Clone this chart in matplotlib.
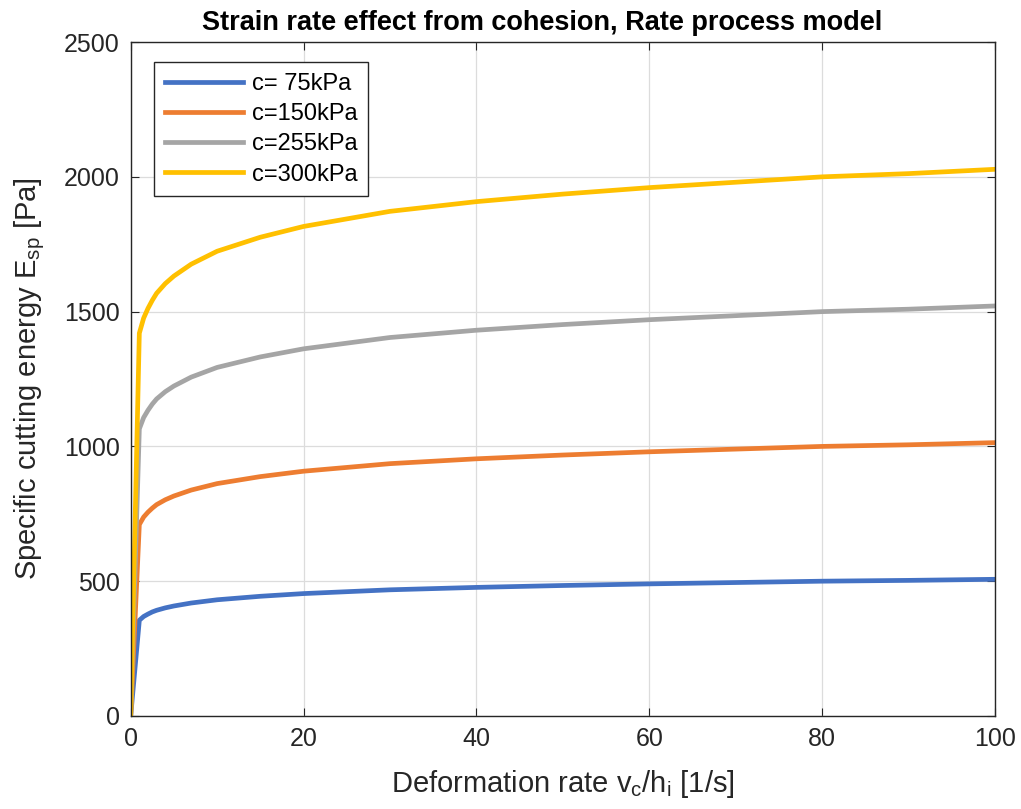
import matplotlib
matplotlib.use('Agg')
import matplotlib.pyplot as plt

plt.rcParams['font.family'] = ['Liberation Sans', 'DejaVu Sans']

# deformation rate [1/s]
rate = [0, 1, 1.5, 2, 2.5, 3, 4, 5, 7, 10, 15, 20, 30, 40, 50, 60, 70, 80, 90, 100]
# specific cutting energy [Pa]
e75 = [0, 355, 369, 378, 386, 392, 401, 408, 419, 431, 444, 454, 468, 477, 484, 490, 495, 500, 503, 507]
e150 = [0, 710, 738, 756, 771, 784, 802, 816, 838, 862, 888, 908, 936, 954, 968, 980, 990, 1000, 1006, 1014]
e255 = [0, 1065, 1107, 1134, 1157, 1176, 1203, 1224, 1257, 1293, 1332, 1362, 1404, 1431, 1452, 1470, 1485, 1500, 1509, 1521]
e300 = [0, 1420, 1476, 1512, 1542, 1568, 1604, 1632, 1676, 1724, 1776, 1816, 1872, 1908, 1936, 1960, 1980, 2000, 2012, 2028]
labels = ['c= 75kPa', 'c=150kPa', 'c=255kPa', 'c=300kPa']
colors = ['#4472C4', '#ED7D31', '#A5A5A5', '#FFC000']

fig = plt.figure(figsize=(10.21, 8.09), dpi=100)
ax = fig.add_axes([0.128, 0.115, 0.8465, 0.833])
for y, lab, col in zip([e75, e150, e255, e300], labels, colors):
    ax.plot(rate, y, color=col, lw=3.4, label=lab)

ax.set_xlim(0, 100); ax.set_ylim(0, 2500)
ax.set_xticks(range(0, 101, 20)); ax.set_yticks(range(0, 2501, 500))
ax.grid(True, color='#dcdcdc', lw=0.9)
ax.set_axisbelow(True)
ax.tick_params(direction='in', top=True, right=True, labelsize=18, length=6, pad=8, colors='#262626')
for s in ax.spines.values():
    s.set_color('#262626'); s.set_linewidth(1.0)

ax.set_title('Strain rate effect from cohesion, Rate process model', fontsize=19.5, fontweight='bold',
             pad=9, x=0.476)
ax.set_xlabel(r'Deformation rate v$_\mathregular{c}$/h$_\mathregular{i}$ [1/s]', fontsize=21, color='#262626', labelpad=12)
ax.set_ylabel(r'Specific cutting energy E$_\mathregular{sp}$ [Pa]', fontsize=21, color='#262626', labelpad=12)

leg = ax.legend(loc='upper left', bbox_to_anchor=(0.027, 0.970), borderaxespad=0, fontsize=17, fancybox=False,
                edgecolor='#262626', framealpha=1, handlelength=3.3, handletextpad=0.4,
                borderpad=0.45, labelspacing=0.35)
leg.get_frame().set_linewidth(1.0)

plt.savefig('out.png', dpi=100)
plt.close()
